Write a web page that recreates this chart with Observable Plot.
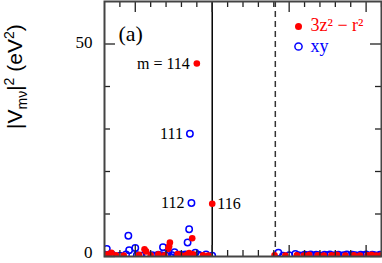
<!DOCTYPE html>
<html><head><meta charset="utf-8">
<script src="https://cdn.jsdelivr.net/npm/d3@7"></script>
<script src="https://cdn.jsdelivr.net/npm/@observablehq/plot@0.6"></script>
<style>html,body{margin:0;padding:0;background:#fff} #chart svg{display:block}</style>
</head><body><div id="chart"></div>
<script>
// 3z^2-r^2 (red, filled)
const redX = [-0.20, 0.00, -0.26, -0.55, -0.56, -0.57, -0.88, -0.86, -1.31, -1.36, -1.25, -1.15, -0.95, -0.80, -0.70, -0.62, -0.45, -0.40, -0.33, -0.30, -0.25, -0.12, -0.05,
  0.81, 0.95, 1.10, 1.19, 1.26, 1.37, 1.45, 1.55, 1.62, 1.73, 1.84, 1.92, 2.02, 2.07, 2.13, 2.19];
const redY = [45.4, 12.4, 4.3, 3.3, 2.4, 1.8, 1.7, 1.2, 0.9, 0.5, 0.3, 0.2, 0.4, 0.3, 0.5, 0.3, 0.6, 0.2, 0.4, 0.8, 0.5, 0.3, 0.2,
  0.3, 0.2, 0.3, 0.2, 0.4, 0.3, 0.2, 0.3, 0.4, 0.2, 0.3, 0.2, 0.3, 0.4, 0.2, 0.3];
// xy (blue, open)
const blueX = [-0.29, -0.27, -0.30, -0.32, -1.09, -1.37, -1.08, -1.00, -0.64, -0.49, -0.22, 0.00, -1.30, -1.20, -1.12, -0.98, -0.92, -0.85, -0.78, -0.74, -0.70, -0.66, -0.60, -0.58, -0.52, -0.46, -0.42, -0.38, -0.35, -0.28, -0.18, -0.15, -0.08,
  0.86, 0.92, 1.00, 1.08, 1.12, 1.16, 1.20, 1.24, 1.28, 1.31, 1.35, 1.38, 1.42, 1.46, 1.50, 1.53, 1.57, 1.60, 1.64, 1.68, 1.71, 1.75, 1.79, 1.82, 1.86, 1.90, 1.93, 1.97, 2.00, 2.04, 2.08, 2.11, 2.15, 2.18];
const blueY = [28.9, 12.6, 6.4, 3.3, 4.9, 1.8, 1.5, 2.0, 2.2, 1.0, 0.9, 0.2, 0.4, 0.2, 0.5, 0.3, 0.2, 0.4, 0.3, 0.2, 0.4, 0.3, 0.2, 0.5, 0.3, 0.2, 0.4, 0.3, 0.5, 0.3, 0.4, 0.2, 0.5,
  0.9, 0.2, 0.3, 0.6, 0.3, 0.2, 0.4, 0.3, 0.5, 0.2, 0.4, 0.3, 0.2, 0.4, 0.3, 0.5, 0.2, 0.3, 0.4, 0.2, 0.3, 0.5, 0.2, 0.4, 0.3, 0.2, 0.4, 0.3, 0.5, 0.2, 0.4, 0.3, 0.2, 0.4];
// state labels
const labText = ["m = 114", "111", "112", "116"];
const labX = [-0.20, -0.29, -0.27, 0.00];
const labY = [45.4, 28.9, 12.6, 12.4];
const labDx = [-7, -7, -7, 5];
const labAnchor = ["end", "end", "end", "start"];
// axis ticks
const xMinor = [-1.2, -0.8, -0.6, -0.4, -0.2, 0.2, 0.4, 0.6, 0.8, 1.2, 1.4, 1.6, 1.8, 2.2];
const xMajor = [-1, 0, 1, 2];
const yMinor = [10, 20, 30, 40];
const yMajor = [0, 50];
const yTickLabels = ["0", "50"];
const fermi = [0];
const dashed = [0.82];
const legendNames = ["3z\u00b2 \u2212 r\u00b2", "xy"];
const panelLabel = "(a)";
const yLabelKey = "YLABEL";

const red = redX.map((x, i) => ({x, y: redY[i]}));
const blue = blueX.map((x, i) => ({x, y: blueY[i]}));
const labs = labText.map((t, i) => ({t, x: labX[i], y: labY[i], dx: labDx[i], a: labAnchor[i]}));
const tickStyle = {stroke: "#222", strokeWidth: 1.3};
const serif = "Liberation Serif, Times New Roman, serif";

const labelMarks = labs.map(d => Plot.text([d], {x: "x", y: "y", text: "t", dx: d.dx, textAnchor: d.a, fontSize: 16, fontFamily: serif, fill: "black"}));
const yTickMarks = yMajor.map((v, i) => Plot.text([v], {y: d => d, text: () => yTickLabels[i], frameAnchor: "left", dx: -12, dy: v === 0 ? -4 : -1, textAnchor: "end", lineAnchor: "middle", fontSize: 17, fontFamily: serif, fill: "black"}));

const chart = Plot.plot({
  width: 382, height: 263,
  marginLeft: 104, marginRight: 1, marginTop: 1, marginBottom: 7,
  x: {domain: [-1.4, 2.2], axis: null},
  y: {domain: [0, 60], axis: null},
  style: {background: "white", fontFamily: serif},
  marks: [
    Plot.ruleX(fermi, {x: d => d, stroke: "black", strokeWidth: 1.5}),
    Plot.ruleX(dashed, {x: d => d, stroke: "#333", strokeWidth: 1.5, strokeDasharray: "6,4"}),
    Plot.dot(blue, {x: "x", y: "y", r: 3.2, stroke: "#0000ff", strokeWidth: 1.5, fill: "none", clip: true}),
    Plot.dot(red, {x: "x", y: "y", r: 3.3, fill: "#ff0000", clip: true}),
    // top/bottom ticks
    Plot.ruleX(xMinor, {x: d => d, insetBottom: 249, ...tickStyle}),
    Plot.ruleX(xMinor, {x: d => d, insetTop: 249, ...tickStyle}),
    Plot.ruleX(xMajor, {x: d => d, insetBottom: 244, ...tickStyle}),
    Plot.ruleX(xMajor, {x: d => d, insetTop: 244, ...tickStyle}),
    // left/right ticks
    Plot.ruleY(yMinor, {y: d => d, insetRight: 271, ...tickStyle}),
    Plot.ruleY(yMinor, {y: d => d, insetLeft: 271, ...tickStyle}),
    Plot.ruleY(yMajor, {y: d => d, insetRight: 266, ...tickStyle}),
    Plot.ruleY(yMajor, {y: d => d, insetLeft: 266, ...tickStyle}),
    Plot.frame({stroke: "#444", strokeWidth: 2}),
    ...yTickMarks,
    Plot.text([panelLabel], {frameAnchor: "top-left", dx: 14, dy: 32, textAnchor: "start", lineAnchor: "middle", fontSize: 22, fontFamily: serif, fill: "black"}),
    ...labelMarks,
    // legend
    Plot.dot([0], {frameAnchor: "top-left", dx: 194, dy: 25, r: 3.5, fill: "#ff0000"}),
    Plot.dot([0], {frameAnchor: "top-left", dx: 194, dy: 45, r: 3.6, stroke: "#0000ff", strokeWidth: 1.5, fill: "none"}),
    Plot.text([legendNames[0]], {frameAnchor: "top-left", dx: 206, dy: 24, textAnchor: "start", lineAnchor: "middle", fontSize: 18, fontFamily: serif, fill: "#ff0000"}),
    Plot.text([legendNames[1]], {frameAnchor: "top-left", dx: 206, dy: 45, textAnchor: "start", lineAnchor: "middle", fontSize: 18, fontFamily: serif, fill: "#0000ff"}),
    // y label
    Plot.text([yLabelKey], {frameAnchor: "left", dx: -89, rotate: -90, fontSize: 21, fontFamily: "Liberation Sans, Arial, sans-serif", fill: "black"})
  ]
});
document.getElementById("chart").appendChild(chart);
// rich y label
for (const t of chart.querySelectorAll("text")) {
  if (t.textContent === yLabelKey) {
    t.textContent = "";
    const parts = [["|V", null, 0], ["m\u03bd", 14, 5], ["|", null, -5], ["2", 14, -8], [" (eV", null, 8], ["2", 14, -8], [")", null, 8]];
    for (const [s, fs, dy] of parts) {
      const ts = document.createElementNS("http://www.w3.org/2000/svg", "tspan");
      ts.textContent = s;
      if (fs) ts.setAttribute("font-size", fs);
      if (dy) ts.setAttribute("dy", dy);
      t.appendChild(ts);
    }
  }
}
</script>
</body></html>
